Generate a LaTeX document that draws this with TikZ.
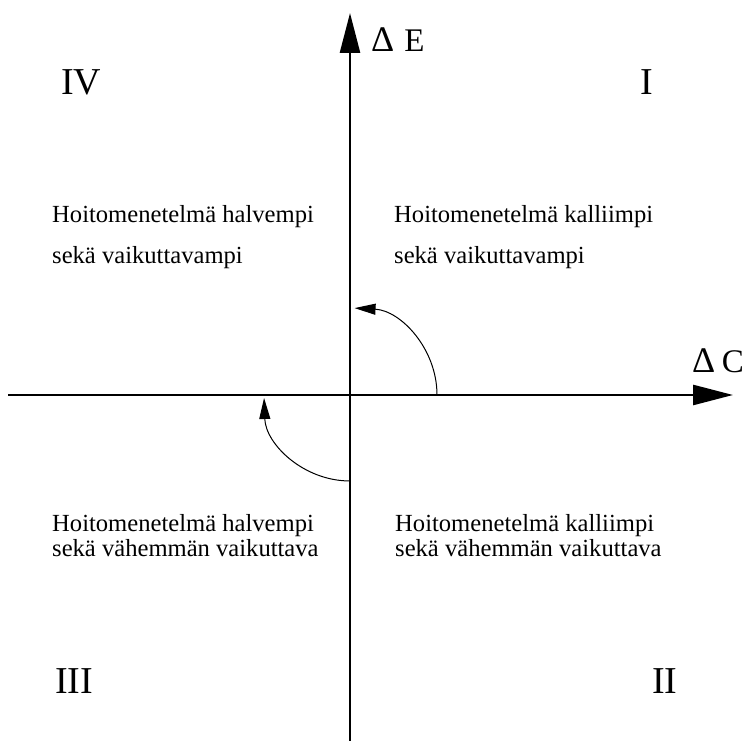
\documentclass[tikz,border=0pt]{standalone}
\usepackage{fontspec}
\setmainfont{Liberation Serif}
\usepackage{tikz}
\usetikzlibrary{arrows.meta}

\begin{document}
\begin{tikzpicture}[
        x=1pt, y=1pt,
        axis/.style={line width=2.6pt, -{Triangle[length=40pt,width=20pt]}},
        turn/.style={line width=1pt, -{Triangle[length=21pt,width=11pt]}},
        txt/.style={anchor=base west, inner sep=0pt, font=\fontsize{24.6}{30}\selectfont},
        quad/.style={anchor=base west, inner sep=0pt, font=\fontsize{38}{44}\selectfont},
        axlabel/.style={anchor=base west, inner sep=0pt, font=\fontsize{33}{38}\selectfont}
    ]
        \useasboundingbox (0,0) rectangle (747,741);

        \coordinate (O) at (350,346);
        \coordinate (xleft) at (8,346);
        \coordinate (xright) at (733,346);
        \coordinate (ybottom) at (350,0);
        \coordinate (ytop) at (350,728);

        \draw[axis] (xleft) -- (xright);
        \draw[axis] (ybottom) -- (ytop);

        \node[axlabel] (dE) at (371,689) {{\fontsize{36}{40}\selectfont Δ}\hspace{0.3em}E};
        \node[axlabel] (dC) at (692,368) {{\fontsize{36}{40}\selectfont Δ}\hspace{0.2em}C};

        % quadrant numbers
        \node[quad] (q4) at (61,646) {IV};
        \node[quad] (q1) at (640,646) {I};
        \node[quad] (q3) at (55,47) {III};
        \node[quad] (q2) at (652,47) {II};

        % quadrant texts
        \node[txt] (ul1) at (52,518) {Hoitomenetelmä halvempi};
        \node[txt] (ul2) at (52,477) {sekä vaikuttavampi};
        \node[txt] (ur1) at (394,518) {Hoitomenetelmä kalliimpi};
        \node[txt] (ur2) at (394,477) {sekä vaikuttavampi};
        \node[txt] (ll1) at (52,209) {Hoitomenetelmä halvempi};
        \node[txt] (ll2) at (52,184) {sekä vähemmän vaikuttava};
        \node[txt] (lr1) at (395,209) {Hoitomenetelmä kalliimpi};
        \node[txt] (lr2) at (395,184) {sekä vähemmän vaikuttava};

        \draw[turn] ([shift={(0:87pt)}]O) arc[start angle=0, end angle=87, radius=87pt];
        \draw[turn] ([shift={(270:86pt)}]O) arc[start angle=270, end angle=182, radius=86pt];
    \end{tikzpicture}
\end{document}
